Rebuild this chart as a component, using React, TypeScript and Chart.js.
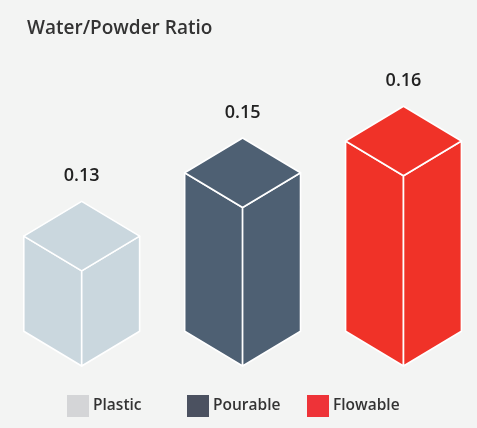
import { useEffect, useRef } from "react";
import { Chart, registerables } from "chart.js";

Chart.register(...registerables);

const titleText = "Water/Powder Ratio";
const categories = ["Plastic", "Pourable", "Flowable"];
const ratioValues = [0.13, 0.15, 0.16];
const barColors = ["#cad7de", "#4e6073", "#f03228"];
const legendColors = ["#d4d5d7", "#4b5160", "#ee3338"];
const FONT = "'Open Sans', 'Noto Sans', sans-serif";
const BG = "#f3f4f3";

const isoBars = {
  id: "isoBars",
  beforeDatasetDraw() {
    return false;
  },
  afterDatasetsDraw(chart: any) {
    const ctx = chart.ctx as CanvasRenderingContext2D;
    const yScale = chart.scales.y;
    const floor = yScale.getPixelForValue(yScale.min);
    const meta = chart.getDatasetMeta(0);
    meta.data.forEach((bar: any, i: number) => {
      const { x, y, width } = bar.getProps(["x", "y", "width"], true);
      const base = floor;
      const hw = width / 2;
      const d = width * 0.3;
      const poly = (pts: number[][]) => {
        ctx.beginPath();
        pts.forEach(([px, py], k) => (k ? ctx.lineTo(px, py) : ctx.moveTo(px, py)));
        ctx.closePath();
        ctx.fill();
        ctx.stroke();
      };
      ctx.save();
      ctx.fillStyle = barColors[i];
      ctx.strokeStyle = "#ffffff";
      ctx.lineWidth = 1.6;
      ctx.lineJoin = "round";
      poly([[x - hw, y - d], [x, y], [x, base], [x - hw, base - d]]);
      poly([[x, y], [x + hw, y - d], [x + hw, base - d], [x, base]]);
      poly([[x, y], [x - hw, y - d], [x, y - 2 * d], [x + hw, y - d]]);
      ctx.fillStyle = "#222222";
      ctx.font = `600 18px ${FONT}`;
      ctx.textAlign = "center";
      ctx.textBaseline = "alphabetic";
      ctx.fillText(ratioValues[i].toFixed(2), x, y - 2 * d - 20);
      ctx.restore();
    });
  },
};

const slotLegend = {
  id: "slotLegend",
  afterDraw(chart: any) {
    const ctx = chart.ctx as CanvasRenderingContext2D;
    const top = chart.chartArea.bottom + 29;
    const start = 67;
    const slot = 120;
    const box = 22;
    ctx.save();
    categories.forEach((label, i) => {
      const bx = start + i * slot;
      ctx.fillStyle = legendColors[i];
      ctx.fillRect(bx, top, box, box);
      ctx.fillStyle = "#333333";
      ctx.font = `600 15.5px ${FONT}`;
      ctx.textAlign = "left";
      ctx.textBaseline = "middle";
      ctx.fillText(label, bx + box + 4, top + box / 2);
    });
    ctx.restore();
  },
};

export default function App() {
  const ref = useRef<HTMLCanvasElement | null>(null);
  useEffect(() => {
    document.body.style.margin = "0";
    document.body.style.background = BG;
    if (!ref.current) return;
    const chart = new Chart(ref.current, {
      type: "bar",
      data: {
        labels: categories,
        datasets: [
          {
            label: titleText,
            data: ratioValues,
            backgroundColor: barColors,
          },
        ],
      },
      options: {
        responsive: false,
        animation: false,
        layout: { padding: { left: 27, right: 73.5, top: 0, bottom: 62 } },
        plugins: {
          legend: { display: false },
          tooltip: { enabled: false },
          title: {
            display: true,
            text: titleText,
            align: "start",
            color: "#333333",
            font: { family: FONT, size: 19, weight: 600 },
            padding: { top: 17, bottom: 9.2 },
          },
        },
        scales: {
          x: {
            type: "category",
            offset: false,
            display: false,
          },
          y: {
            type: "linear",
            min: 0.1,
            max: 0.2,
            display: true,
            ticks: { display: false },
            grid: { display: false },
            border: { display: false },
            afterFit: (s: any) => {
              s.width = 54.7;
            },
          },
        },
      },
      plugins: [isoBars, slotLegend],
    });
    return () => chart.destroy();
  }, []);
  return (
    <div style={{ background: BG, width: 477, height: 428 }}>
      <canvas ref={ref} width={477} height={428} style={{ display: "block" }} />
    </div>
  );
}
